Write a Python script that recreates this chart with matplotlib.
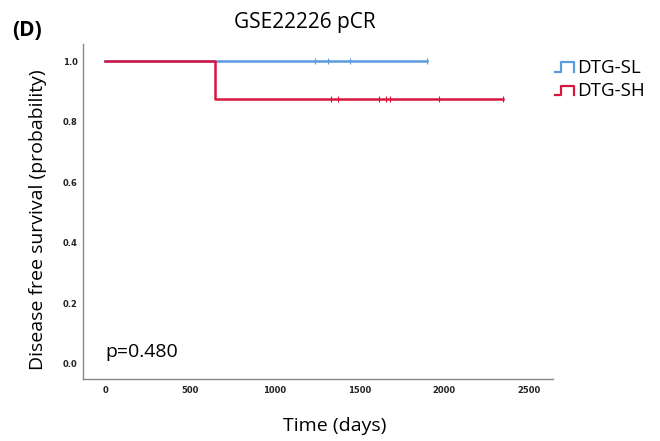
import matplotlib
matplotlib.use('Agg')
import matplotlib.pyplot as plt
from matplotlib.lines import Line2D
from matplotlib.legend_handler import HandlerBase

# Kaplan-Meier steps (days, probability)
sl_times = [0, 1897]
sl_surv = [1.0, 1.0]
sh_times = [0, 649, 2345]
sh_surv = [1.0, 0.875, 0.875]

# censored observations
sl_censor = [1238, 1313, 1443, 1897]
sh_censor = [1331, 1375, 1617, 1657, 1682, 1968, 2345]

groups = ['DTG-SL', 'DTG-SH']
colors = ['#5B9BE0', '#D8163F']
p_text = 'p=0.480'

xticks = [0, 500, 1000, 1500, 2000, 2500]
yticks = [0.0, 0.2, 0.4, 0.6, 0.8, 1.0]


class StepHandler(HandlerBase):
    # small step symbol for the legend
    def create_artists(self, legend, orig_handle, xdescent, ydescent,
                       width, height, fontsize, trans):
        x0, y0 = -xdescent, -ydescent
        lo, hi = y0 + height * 0.1, y0 + height * 0.8
        xs = [x0, x0 + width * 0.35, x0 + width * 0.35, x0 + width, x0 + width]
        ys = [lo, lo, hi, hi, lo]
        ln = Line2D(xs, ys, color=orig_handle.get_color(), lw=1.6, transform=trans)
        return [ln]


fig = plt.figure(figsize=(6.6, 4.41), dpi=100)
ax = fig.add_axes([0.1258, 0.1406, 0.712, 0.759])

def surv_at(times, surv, t):
    val = surv[0]
    for tt, s in zip(times, surv):
        if t >= tt:
            val = s
    return val

h1, = ax.step(sl_times, sl_surv, where='post', color=colors[0], lw=1.8)
ax.plot(sl_censor, [surv_at(sl_times, sl_surv, t) for t in sl_censor],
        linestyle='none', marker='|', ms=4, mew=0.8, color=colors[0])
h2, = ax.step(sh_times, sh_surv, where='post', color=colors[1], lw=1.8)
ax.plot(sh_censor, [surv_at(sh_times, sh_surv, t) for t in sh_censor],
        linestyle='none', marker='|', ms=4, mew=0.8, color=colors[1])

ax.set_xlim(-130, 2641)
ax.set_ylim(-0.05, 1.056)
ax.set_xticks(xticks)
ax.set_yticks(yticks)
ax.set_xticklabels([str(t) for t in xticks], fontsize=6, fontweight='bold',
                   family='DejaVu Sans', color='#222222')
ax.set_yticklabels([f'{t:.1f}' for t in yticks], fontsize=6, fontweight='bold',
                   family='DejaVu Sans', color='#222222')
ax.tick_params(axis='x', length=0, pad=5)
ax.tick_params(axis='y', length=0, pad=4)

for s in ['top', 'right']:
    ax.spines[s].set_visible(False)
for s in ['left', 'bottom']:
    ax.spines[s].set_color('#888888')
    ax.spines[s].set_linewidth(1.0)

ax.set_xlabel('Time (days)', fontsize=14, family='Open Sans')
ax.set_ylabel('Disease free survival (probability)', fontsize=14,
              family='Open Sans')
ax.xaxis.set_label_coords(0.535, -0.115)
ax.yaxis.set_label_coords(-0.077, 0.475)
ax.text(0, 0.04, p_text, fontsize=14, family='Open Sans', ha='left', va='center')

fig.text(0.462, 0.95, 'GSE22226 pCR', fontsize=15, family='Open Sans',
         ha='center', va='center')
fig.text(0.018, 0.93, '(D)', fontsize=15, family='Open Sans',
         fontweight='bold', ha='left', va='center')

fig.legend([h1, h2], groups, loc='upper left', bbox_to_anchor=(0.835, 0.875),
           frameon=False, handler_map={Line2D: StepHandler()},
           handlelength=1.0, handletextpad=0.2, labelspacing=0.3,
           borderaxespad=0.0, borderpad=0.2,
           prop={'family': 'Open Sans', 'size': 13.5})

plt.savefig('out.png', dpi=100)
